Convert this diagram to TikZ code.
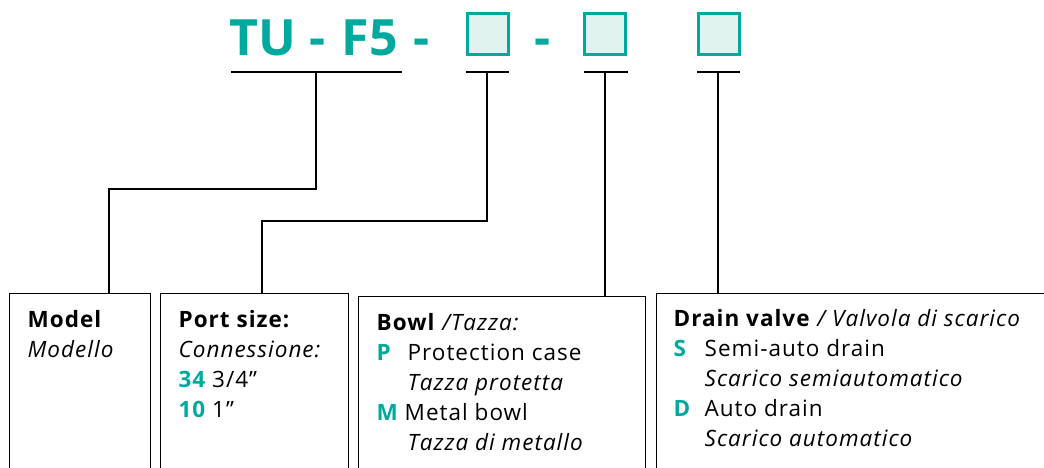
\documentclass[tikz,border=0pt]{standalone}
\usepackage{fontspec}
\setmainfont{Open Sans}[LetterSpace=4.5]
\newfontfamily\codefont{Open Sans}
\usepackage{tikz}
\usetikzlibrary{positioning}
\definecolor{tealk}{HTML}{00A99D}
\definecolor{tealbg}{HTML}{E1F3EF}
\tikzset{x=1pt,y=-1pt}
\tikzset{box/.style={draw,line width=1.3pt,anchor=north west,inner sep=0pt}}
\tikzset{slot/.style={draw=tealk,fill=tealbg,line width=3pt,minimum size=41pt,inner sep=0pt}}
\tikzset{txt/.style={anchor=north west,align=left,inner sep=0pt,font=\fontsize{22.5}{30}\selectfont}}
\tikzset{code/.style={font=\codefont\fontsize{50}{50}\selectfont\bfseries,text=tealk,inner sep=0pt,anchor=base west}}
\newcommand{\key}[1]{\makebox[31pt][l]{\textcolor{tealk}{\bfseries #1}}}

\begin{document}
\begin{tikzpicture}[line width=1.3pt]
    \useasboundingbox (0,0) rectangle (1044,467);
    % model code
    \node[code] (tu) at (229,55) {TU};
    \node[code] (d1) at (309,55) {-};
    \node[code] (f5) at (341,55) {F5};
    \node[code] (d2) at (413,55) {-};
    \node[slot] (s1) at (488,34) {};
    \node[code] (d3) at (534,55) {-};
    \node[slot] (s2) at (605,34) {};
    \node[slot] (s3) at (719,34) {};
    % underlines
    \coordinate (u1) at (316,72);
    \coordinate (u2) at (487,72);
    \coordinate (u3) at (605,72);
    \coordinate (u4) at (718,72);
    \draw (231,72) -- (402,72);
    \draw (466,72) -- (509,72);
    \draw (584,72) -- (628,72);
    \draw (697,72) -- (740,72);
    % boxes
    \node[box,minimum width=141pt,minimum height=190pt] (b1) at (9,293) {};
    \node[box,minimum width=188pt,minimum height=190pt] (b2) at (160,293) {};
    \node[box,minimum width=287pt,minimum height=190pt] (b3) at (358,296) {};
    \node[box,minimum width=400pt,minimum height=190pt] (b4) at (656,293) {};
    % connectors
    \draw (u1) |- (109,189) -- (b1.north -| 109,0);
    \draw (u2) |- (262,221) -- (b2.north -| 262,0);
    \draw (u3) -- (b3.north -| u3);
    \draw (u4) -- (b4.north -| u4);
    % texts
    \node[txt] (t1) at (27,306) {\strut\textbf{Model}\\\textit{Modello}};
    \node[txt] (t2) at (178,306) {\strut\textbf{Port size:}\\\textit{Connessione:}\\
        \textcolor{tealk}{\bfseries 34} 3/4”\\\textcolor{tealk}{\bfseries 10} 1”};
    \node[txt] (t3) at (376,309) {\strut\textbf{Bowl} \textit{/Tazza:}\\
        \key{P}Protection case\\\hspace*{31pt}\textit{Tazza protetta}\\
        \textcolor{tealk}{\bfseries M} Metal bowl\\\hspace*{31pt}\textit{Tazza di metallo}};
    \node[txt] (t4) at (673,305) {\strut\textbf{Drain valve} \textit{/ Valvola di scarico}\\
        \key{S}Semi-auto drain\\\hspace*{31pt}\textit{Scarico semiautomatico}\\
        \key{D}Auto drain\\\hspace*{31pt}\textit{Scarico automatico}};
\end{tikzpicture}
\end{document}
